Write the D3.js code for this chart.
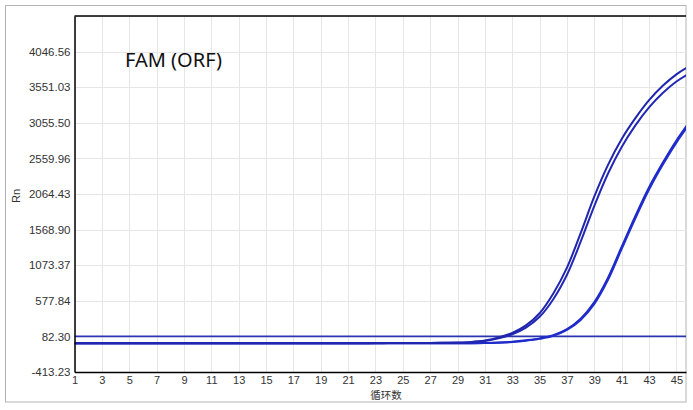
<!DOCTYPE html>
<html><head><meta charset="utf-8">
<script src="https://cdn.jsdelivr.net/npm/d3@7"></script>
<style>
html,body{margin:0;padding:0;background:#fff;}
svg{display:block;}
text{font-family:"Liberation Sans",Arial,sans-serif;}
</style></head>
<body>
<svg id="c" width="693" height="410"></svg>
<script>
const cycles = [1,2,3,4,5,6,7,8,9,10,11,12,13,14,15,16,17,18,19,20,21,22,23,24,25,26,27,28,29,30,31,32,33,34,35,36,37,38,39,40,41,42,43,44,45,46];
const seriesA1 = [-12,-12,-12,-12,-12,-12,-12,-12,-12,-12,-12,-12,-12,-12,-12,-12,-12,-12,-12,-12,-12,-12,-11,-11,-10,-9,-8,-6,-3,5,25,66,130,235,405,680,1040,1520,2030,2470,2830,3120,3370,3570,3730,3850];
const seriesA2 = [-12,-12,-12,-12,-12,-12,-12,-12,-12,-12,-12,-12,-12,-12,-12,-12,-12,-12,-12,-12,-12,-12,-12,-11,-11,-10,-9,-7,-5,2,18,55,112,205,355,600,940,1400,1900,2350,2720,3020,3270,3470,3630,3750];
const seriesB1 = [-13,-13,-13,-13,-13,-13,-13,-13,-13,-13,-13,-13,-13,-13,-13,-13,-13,-13,-13,-13,-13,-13,-13,-13,-13,-13,-13,-13,-13,-12,-10,-4,8,28,55,100,185,330,560,900,1330,1760,2160,2500,2810,3080];
const seriesB2 = [-13,-13,-13,-13,-13,-13,-13,-13,-13,-13,-13,-13,-13,-13,-13,-13,-13,-13,-13,-13,-13,-13,-13,-13,-13,-13,-13,-13,-13,-13,-11,-6,4,22,48,90,172,312,535,870,1300,1725,2125,2470,2780,3050];
const threshold = 82.30;
const yTicks = [-413.23,82.30,577.84,1073.37,1568.90,2064.43,2559.96,3055.50,3551.03,4046.56,4542.09];
const yTickLabels = ["-413.23","82.30","577.84","1073.37","1568.90","2064.43","2559.96","3055.50","3551.03","4046.56",""];
const xTicks = [1,3,5,7,9,11,13,15,17,19,21,23,25,27,29,31,33,35,37,39,41,43,45];
const titleText = "FAM (ORF)";
const xTitle = "循环数";
const yTitle = "Rn";

const svg = d3.select("#c");
const L = 74.5, R = 686, T = 16, B = 372;
const x = d3.scaleLinear().domain([1, 45.7]).range([L, R]);
const y = d3.scaleLinear().domain([-413.23, 4542.09]).range([B, T]);

// outer frame
svg.append("rect").attr("x",5.5).attr("y",5.5).attr("width",680.5).attr("height",396.5)
  .attr("fill","#fff").attr("stroke","#b4b4b4").attr("stroke-width",1);

// grid
const g = svg.append("g");
g.selectAll(".vg").data(xTicks).join("line")
  .attr("x1",d=>Math.round(x(d))+0.5).attr("x2",d=>Math.round(x(d))+0.5)
  .attr("y1",T).attr("y2",B).attr("stroke","#e6e6e6").attr("stroke-width",1);
g.selectAll(".hg").data(yTicks).join("line")
  .attr("x1",L).attr("x2",R)
  .attr("y1",d=>Math.round(y(d))+0.5).attr("y2",d=>Math.round(y(d))+0.5)
  .attr("stroke","#e6e6e6").attr("stroke-width",1);

// clip
svg.append("clipPath").attr("id","clip").append("rect")
  .attr("x",L).attr("y",T).attr("width",R-L).attr("height",B-T);

const plot = svg.append("g").attr("clip-path","url(#clip)");

// threshold
plot.append("line").attr("x1",L).attr("x2",R)
  .attr("y1",y(threshold)).attr("y2",y(threshold))
  .attr("stroke","#2a36b0").attr("stroke-width",1.6);

const line = d3.line().x((d,i)=>x(cycles[i])).y(d=>y(d)).curve(d3.curveCatmullRom.alpha(0.5));
const series = [seriesB2, seriesB1, seriesA2, seriesA1];
const colors = ["#2430d0","#1f2bc8","#2228b4","#1f25ac"];
plot.selectAll(".curve").data(series).join("path")
  .attr("d",line).attr("fill","none")
  .attr("stroke",(d,i)=>colors[i]).attr("stroke-width",2);

// axes
const yAxis = d3.axisLeft(y).tickValues(yTicks).tickFormat((d,i)=>yTickLabels[i]).tickSize(0).tickPadding(4);
const ya = svg.append("g").attr("transform",`translate(${L},0)`).call(yAxis);
ya.select(".domain").attr("stroke","#000").attr("stroke-width",1.5);
ya.selectAll("text").attr("font-size",11.5).attr("fill","#333").style("font-family","'Liberation Sans',Arial,sans-serif");

const xAxis = d3.axisBottom(x).tickValues(xTicks).tickFormat(d3.format("d")).tickSize(0).tickPadding(4);
const xa = svg.append("g").attr("transform",`translate(0,${B})`).call(xAxis);
xa.select(".domain").attr("stroke","#000").attr("stroke-width",1.5);
xa.selectAll("text").attr("font-size",11).attr("fill","#333").style("font-family","'Liberation Sans',Arial,sans-serif");

// top border
svg.append("line").attr("x1",L).attr("x2",R).attr("y1",T).attr("y2",T).attr("stroke","#000").attr("stroke-width",1.5);

// titles
svg.append("text").attr("x",386).attr("y",399).attr("text-anchor","middle")
  .attr("font-size",10.5).attr("fill","#333").style("font-family","'Noto Sans CJK SC',sans-serif").text(xTitle);
svg.append("text").attr("transform","translate(20,196) rotate(-90)").attr("text-anchor","middle")
  .attr("font-size",11).attr("fill","#333").text(yTitle);
svg.append("text").attr("x",125).attr("y",67)
  .attr("font-size",20).attr("fill","#111").style("font-family","'Noto Sans',sans-serif").text(titleText);
</script>
</body></html>
